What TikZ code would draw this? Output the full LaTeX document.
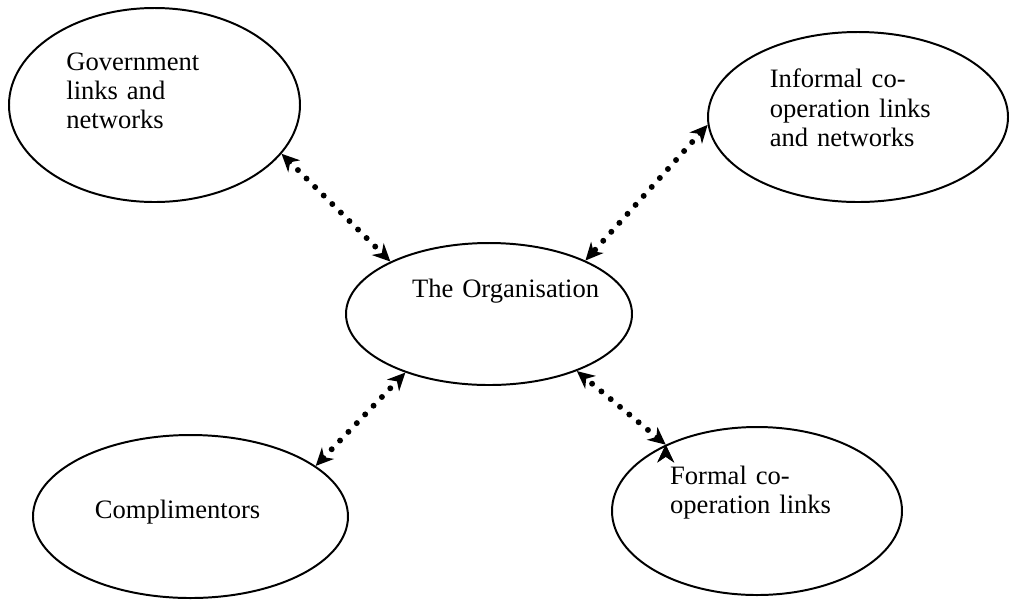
\documentclass[tikz,border=0pt]{standalone}
\usepackage{fontspec}
\setmainfont{Liberation Serif}
\usetikzlibrary{positioning, arrows.meta, shapes.geometric}
\tikzset{
  hub/.style = {ellipse, draw, line width=0.9pt, inner sep=0pt,
                minimum width=4.576cm, minimum height=2.272cm,
                text width=2.46cm, align=left, text height=0pt, text depth=0.544cm,
                font=\fontsize{12.1}{13.4}\selectfont},
  partner/.style = {ellipse, draw, line width=0.9pt, inner sep=0pt, align=left,
                    text height=0pt, font=\fontsize{12.1}{13.4}\selectfont},
  tie/.style = {draw, line width=2.7pt, line cap=round, dash pattern=on 0pt off 5.5pt,
                >={Stealth[length=8pt,width=7.5pt,inset=2.5pt]}, <->}
}
\begin{document}
\begin{tikzpicture}[on grid]
  \useasboundingbox (-7.824,-4.576) rectangle (8.352,5.024);
  \node [hub] (org) {\mbox{The Organisation}};
  \node [partner, above left=3.344cm and 5.352cm of org, minimum width=4.656cm,
         minimum height=3.104cm, text width=2.82cm, text depth=1.12cm] (gov)
        {Government\\links and\\networks};
  \node [partner, above right=3.152cm and 5.904cm of org, minimum width=4.8cm,
         minimum height=2.72cm, text width=2.82cm, text depth=0.93cm] (informal)
        {Informal co-\\operation links\\and networks};
  \node [partner, below left=3.24cm and 4.776cm of org, minimum width=5.04cm,
         minimum height=2.608cm, text width=3.06cm, text height=0.048cm, text depth=0pt] (comp)
        {Complimentors};
  \node [partner, below right=3.152cm and 4.288cm of org, minimum width=4.64cm,
         minimum height=2.688cm, text width=2.78cm, text depth=0.864cm] (formal)
        {Formal co-\\operation links};

  \path [tie]
        (gov.-21.4) edge (org.152.3)
        (informal.183) edge (org.29)
        (comp.22) edge (org.215.7)
        (formal.144.4) edge (org.-33.8);
\end{tikzpicture}
\end{document}
